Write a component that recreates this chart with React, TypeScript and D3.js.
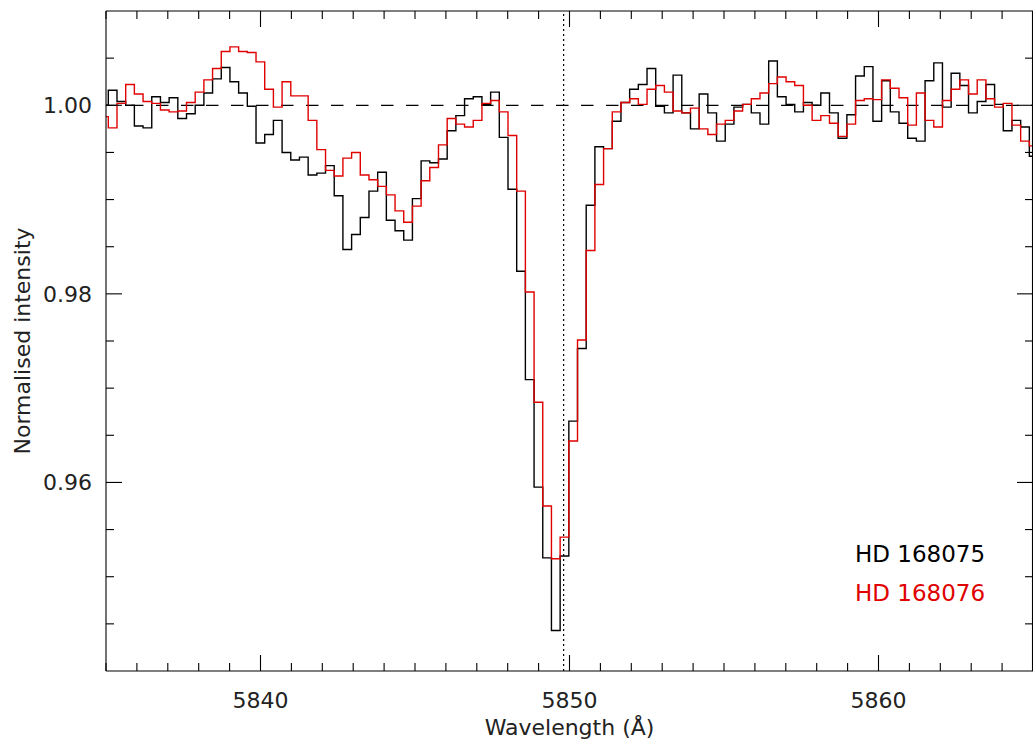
import React from "react";
import * as d3 from "d3";

// ---- data ----
const WL_FIRST = 5834.934; // centre of first (partially visible) bin, Å
const WL_STEP = 0.2812; // bin width, Å
const REST_WL = 5849.81; // dotted reference line

const hd168075: number[] = [
  1.0000, 1.0016, 1.0004, 1.0000, 0.9978, 0.9976, 1.0009, 1.0003, 1.0008, 0.9986,
  0.9991, 1.0000, 1.0013, 1.0028, 1.0040, 1.0025, 1.0013, 0.9999, 0.9960, 0.9969,
  0.9984, 0.9950, 0.9942, 0.9945, 0.9926, 0.9928, 0.9936, 0.9904, 0.9847, 0.9863,
  0.9881, 0.9909, 0.9929, 0.9878, 0.9867, 0.9857, 0.9901, 0.9941, 0.9939, 0.9943,
  0.9973, 0.9989, 1.0007, 1.0009, 1.0001, 1.0014, 0.9966, 0.9911, 0.9824, 0.9709,
  0.9595, 0.9520, 0.9443, 0.9522, 0.9665, 0.9742, 0.9894, 0.9956, 0.9954, 0.9983,
  1.0003, 1.0017, 1.0022, 1.0039, 0.9999, 0.9992, 1.0032, 0.9992, 0.9975, 1.0012,
  0.9992, 0.9962, 0.9980, 0.9998, 1.0001, 0.9992, 0.9980, 1.0047, 1.0009, 1.0001,
  0.9993, 1.0003, 1.0000, 1.0013, 0.9992, 0.9965, 0.9990, 1.0031, 1.0041, 0.9983,
  1.0026, 0.9993, 0.9981, 0.9965, 0.9962, 1.0026, 1.0045, 0.9998, 1.0034, 1.0021,
  0.9992, 1.0004, 1.0022, 1.0001, 0.9973, 0.9984, 0.9977, 0.9946,
];

const hd168076: number[] = [
  0.9988, 0.9976, 1.0002, 1.0022, 1.0012, 1.0004, 1.0002, 0.9995, 0.9993, 0.9994,
  1.0003, 1.0014, 1.0027, 1.0039, 1.0057, 1.0062, 1.0057, 1.0056, 1.0046, 1.0017,
  0.9998, 1.0025, 1.0010, 1.0010, 0.9984, 0.9953, 0.9931, 0.9925, 0.9944, 0.9950,
  0.9926, 0.9921, 0.9914, 0.9905, 0.9888, 0.9876, 0.9893, 0.9920, 0.9934, 0.9958,
  0.9986, 0.9980, 0.9977, 0.9984, 1.0002, 1.0005, 0.9993, 0.9968, 0.9909, 0.9802,
  0.9685, 0.9575, 0.9519, 0.9542, 0.9644, 0.9751, 0.9846, 0.9916, 0.9954, 0.9993,
  1.0003, 1.0007, 1.0001, 1.0017, 1.0021, 1.0014, 0.9994, 0.9992, 0.9997, 0.9975,
  0.9969, 0.9980, 0.9984, 0.9994, 1.0001, 1.0007, 1.0013, 1.0023, 1.0030, 1.0025,
  1.0021, 1.0000, 0.9984, 0.9989, 0.9981, 0.9967, 0.9980, 1.0005, 1.0007, 1.0006,
  1.0027, 1.0018, 1.0008, 0.9979, 1.0013, 0.9984, 0.9977, 1.0005, 1.0017, 1.0027,
  1.0012, 1.0027, 1.0007, 0.9998, 1.0002, 0.9979, 0.9962, 0.9957,
];

const xMajorTicks = [5840, 5850, 5860];
const yMajorTicks = [0.96, 0.98, 1.0];
const xTickLabels = ["5840", "5850", "5860"];
const yTickLabels = ["0.96", "0.98", "1.00"];
const seriesNames = ["HD 168075", "HD 168076"];
const seriesColors = ["#000000", "#e00000"];

// ---- layout ----
const W = 1033;
const H = 742;
const L = 106;
const R = 1033;
const T = 11;
const B = 671;
const FONT = "'DejaVu Sans', sans-serif";

export default function App() {
  const x = d3.scaleLinear().domain([5835, 5865]).range([L, R]);
  const y = d3.scaleLinear().domain([0.94, 1.01]).range([B, T]);

  const wl = d3.range(hd168075.length).map((i) => WL_FIRST + i * WL_STEP);

  const line = d3
    .line<[number, number]>()
    .x((d) => x(d[0]))
    .y((d) => y(d[1]))
    .curve(d3.curveStep);

  const series = [hd168075, hd168076];

  const xMinor = d3.range(5835, 5866, 1).filter((v) => !xMajorTicks.includes(v));
  const yMinor = d3
    .range(0, 15)
    .map((i) => +(0.94 + i * 0.005).toFixed(3))
    .filter((v) => v > 0.94 && v < 1.01 && !yMajorTicks.some((m) => Math.abs(m - v) < 1e-9));

  const MAJ = 16;
  const MIN = 8;
  const sw = 1.1;

  return (
    <svg
      width={W}
      height={H}
      style={{ position: "absolute", left: 0, top: 0, background: "#fff" }}
    >
      <defs>
        <clipPath id="plotclip">
          <rect x={L} y={T} width={R - L} height={B - T} />
        </clipPath>
      </defs>
      <rect x={0} y={0} width={W} height={H} fill="#fff" />

      {/* data */}
      <g clipPath="url(#plotclip)">
        <line
          x1={L}
          x2={R}
          y1={y(1.0)}
          y2={y(1.0)}
          stroke="#000"
          strokeWidth={1.2}
          strokeDasharray="12.5,12.5"
        />
        <line
          x1={x(REST_WL)}
          x2={x(REST_WL)}
          y1={B}
          y2={T}
          stroke="#000"
          strokeWidth={1.2}
          strokeDasharray="2,3"
        />
        {series.map((s, si) => (
          <path
            key={si}
            d={line(s.map((v, i) => [wl[i], v] as [number, number])) || ""}
            fill="none"
            stroke={seriesColors[si]}
            strokeWidth={1.4}
          />
        ))}
      </g>

      {/* frame */}
      <g stroke="#000" strokeWidth={sw} fill="none">
        <line x1={L} x2={L} y1={T} y2={B} />
        <line x1={L} x2={R} y1={B} y2={B} />
        <line x1={L} x2={R} y1={T} y2={T} />
        <line x1={R - 0.5} x2={R - 0.5} y1={T} y2={B} />
        {/* x ticks */}
        {xMajorTicks.map((v) => (
          <g key={"xm" + v}>
            <line x1={x(v)} x2={x(v)} y1={B} y2={B - MAJ} />
            <line x1={x(v)} x2={x(v)} y1={T} y2={T + MAJ} />
          </g>
        ))}
        {xMinor.map((v) => (
          <g key={"xn" + v}>
            <line x1={x(v)} x2={x(v)} y1={B} y2={B - MIN} />
            <line x1={x(v)} x2={x(v)} y1={T} y2={T + MIN} />
          </g>
        ))}
        {/* y ticks */}
        {yMajorTicks.map((v) => (
          <g key={"ym" + v}>
            <line x1={L} x2={L + MAJ} y1={y(v)} y2={y(v)} />
            <line x1={R} x2={R - MAJ} y1={y(v)} y2={y(v)} />
          </g>
        ))}
        {yMinor.map((v) => (
          <g key={"yn" + v}>
            <line x1={L} x2={L + MIN} y1={y(v)} y2={y(v)} />
            <line x1={R} x2={R - MIN} y1={y(v)} y2={y(v)} />
          </g>
        ))}
      </g>

      {/* tick labels */}
      <g fontFamily={FONT} fontSize={22} fill="#222">
        {xMajorTicks.map((v, i) => (
          <text key={"xl" + v} x={x(v)} y={708} textAnchor="middle">
            {xTickLabels[i]}
          </text>
        ))}
        {yMajorTicks.map((v, i) => (
          <text key={"yl" + v} x={92} y={y(v) + 8} textAnchor="end">
            {yTickLabels[i]}
          </text>
        ))}
        <text x={x(5850)} y={735} textAnchor="middle">
          Wavelength (Å)
        </text>
        <text
          transform={`translate(30, ${(T + B) / 2}) rotate(-90)`}
          textAnchor="middle"
        >
          Normalised intensity
        </text>
      </g>

      {/* legend */}
      <g fontFamily={FONT} fontSize={23}>
        {seriesNames.map((n, i) => (
          <text key={n} x={855} y={562 + i * 38.5} fill={seriesColors[i]}>
            {n}
          </text>
        ))}
      </g>
    </svg>
  );
}
